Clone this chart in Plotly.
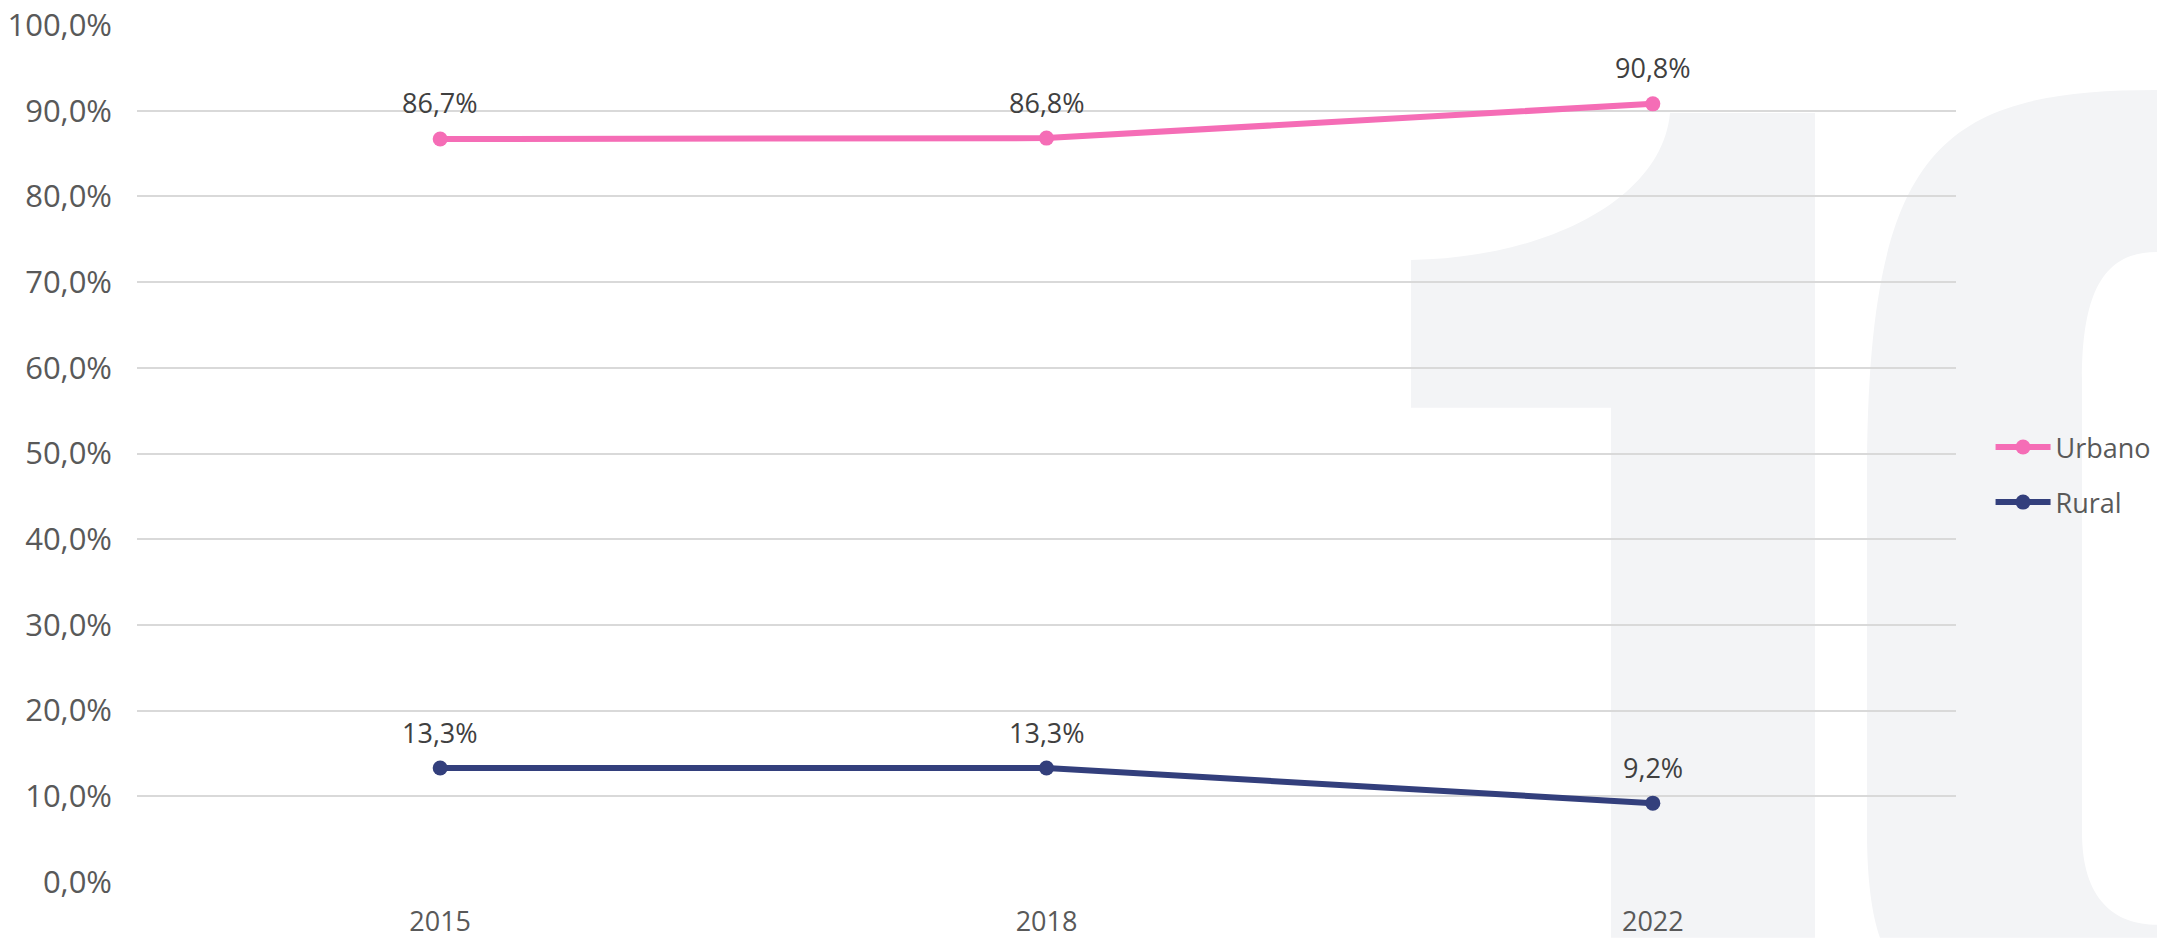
import plotly.graph_objects as go

years = ["2015", "2018", "2022"]
urbano = [0.867, 0.868, 0.908]
rural = [0.133, 0.133, 0.092]
series_names = ["Urbano", "Rural"]
colors = ["#F56DB6", "#333F7C"]

W, H = 2157, 938
L, R, T, B = 137, 1956, 25, 882.3

def px(x, y):
    return (x - L) / (R - L), (B - y) / (B - T)

def path(cmds):
    out = []
    for c in cmds:
        if isinstance(c, str):
            out.append(c)
        else:
            xx, yy = px(*c)
            out.append(f"{xx:.5f},{yy:.5f}")
    return " ".join(out)

one = path(["M", (1611, 938), "L", (1611, 408), "L", (1411, 408), "L", (1411, 260),
            "C", (1545, 258), (1662, 200), (1670, 113), "L", (1815, 113), "L", (1815, 938), "Z"])
zero = path(["M", (2157, 90), "C", (1937, 90), (1867, 150), (1867, 480), "L", (1867, 833),
             "C", (1867, 880), (1872, 915), (1880, 938), "L", (2157, 938), "L", (2157, 925),
             "C", (2115, 925), (2082, 900), (2082, 833), "L", (2082, 380),
             "C", (2082, 290), (2105, 252), (2157, 252), "Z"])

def fmt(v):
    return f"{v * 100:.1f}%".replace(".", ",")

fig = go.Figure()
annotations = []
for name, vals, col in zip(series_names, [urbano, rural], colors):
    fig.add_trace(go.Scatter(
        x=years, y=vals, name=name, legendgroup=name, mode="lines+markers",
        line=dict(color=col, width=6), marker=dict(size=15, color=col),
        cliponaxis=False, hoverinfo="skip",
    ))
    for i, v in enumerate(vals):
        annotations.append(dict(
            x=i, y=v, xref="x", yref="y", text=fmt(v), showarrow=False,
            yanchor="middle", xanchor="center", yshift=36,
            font=dict(family="Open Sans", size=27, color="#404040"),
        ))

shape_style = dict(type="path", xref="paper", yref="paper", layer="below",
                   fillcolor="#F3F4F6", line=dict(width=0))
fig.update_layout(
    width=W, height=H,
    margin=dict(l=L, r=W - R, t=T, b=H - B, autoexpand=False),
    paper_bgcolor="white", plot_bgcolor="rgba(0,0,0,0)",
    separators=",.",
    font=dict(family="Open Sans", size=27, color="#595959"),
    shapes=[dict(path=one, **shape_style), dict(path=zero, **shape_style)],
    annotations=annotations,
    xaxis=dict(type="category", range=[-0.5, 2.5], showgrid=False, showline=False,
               zeroline=False, ticks="", ticklabelstandoff=21, automargin=False,
               tickfont=dict(family="Open Sans", size=27, color="#595959")),
    yaxis=dict(range=[0, 1], dtick=0.1, tickformat=".1%", showgrid=True,
               gridcolor="#D9D9D9", gridwidth=2, zeroline=False, showline=False,
               ticks="", ticklabelstandoff=24, automargin=False,
               tickfont=dict(family="Open Sans", size=31, color="#595959")),
    legend=dict(x=1.019, xanchor="left", y=0.475, yanchor="middle",
                tracegroupgap=17, itemwidth=55,
                font=dict(family="Open Sans", size=27, color="#595959"),
                bgcolor="rgba(0,0,0,0)"),
    showlegend=True,
)

fig.write_html("out.html", config={"displayModeBar": False},
               post_script="document.body.style.margin='0';")
